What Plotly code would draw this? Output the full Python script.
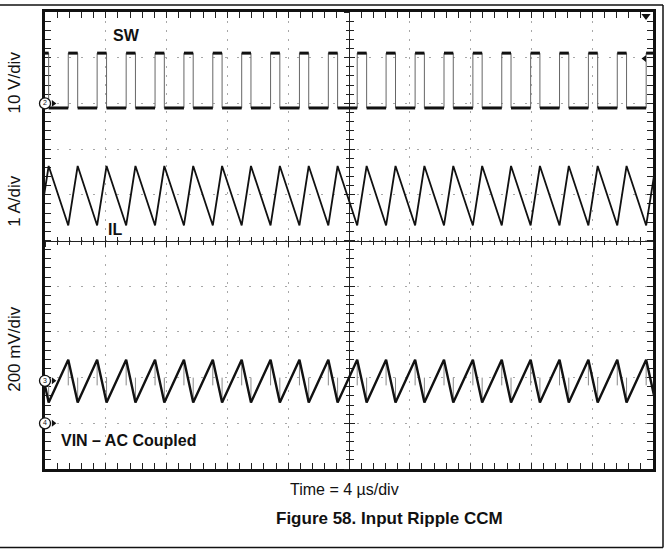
import plotly.graph_objects as go

# ---------------- data ----------------
# time base: 4 us/div, 10 divisions
time_range_us = [0, 40]
volt_div_range = [-5, 5]
# switching-node (SW) edge times, us
sw_rise_us = [-0.37, 1.53, 3.43, 5.34, 7.24, 9.14, 11.04, 12.94, 14.84, 16.74, 18.64,
              20.54, 22.44, 24.35, 26.25, 28.15, 30.05, 31.95, 33.85, 35.75, 37.65, 39.55]
sw_fall_us = [0.24, 2.15, 4.05, 5.95, 7.85, 9.75, 11.65, 13.55, 15.45, 17.35, 19.25,
              21.16, 23.06, 24.96, 26.86, 28.76, 30.66, 32.56, 34.46, 36.36, 38.26, 40.17]
# levels
sw_low_v, sw_high_v = -1.0, 11.0          # ch2, 10 V/div
il_trough_a, il_peak_a = 0.33, 1.63       # ch1, 1 A/div
vin_peak_mv, vin_trough_mv = 92, -95      # ch3, 200 mV/div (AC coupled)
vin_spike_down_mv, vin_spike_up_mv = -20, 14
# channel scales (units per division) and offsets (divisions)
ch_scale = {"SW": 10.0, "IL": 1.0, "VIN": 200.0}
ch_offset_div = {"SW": 3.0, "IL": 0.0, "VIN": -3.07, "CH4": -4.0}
trigger_level_div = 3.98
trigger_time_us = 39.54
marker_labels = ["2", "3", "4"]

# ---------------- helpers (pixel layout) ----------------
W, H = 669, 550
L, R, T, B = 45, 653, 9, 469


def px(xp):
    return (xp - L) / (R - L)


def py(yp):
    return (B - yp) / (B - T)


def div(ch, v):
    return ch_offset_div[ch] + v / ch_scale[ch]


FONT = "Liberation Sans, Arial, Helvetica, sans-serif"

# ---------------- build traces ----------------
sw_x, sw_y = [], []
for r, f in zip(sw_rise_us, sw_fall_us):
    sw_x += [r, r, f, f]
    sw_y += [div("SW", sw_low_v), div("SW", sw_high_v), div("SW", sw_high_v), div("SW", sw_low_v)]

plat_x, plat_y = [], []
for i, (r, f) in enumerate(zip(sw_rise_us, sw_fall_us)):
    plat_x += [r, f, None]
    plat_y += [div("SW", sw_high_v)] * 2 + [None]
    if i + 1 < len(sw_rise_us):
        plat_x += [f, sw_rise_us[i + 1], None]
        plat_y += [div("SW", sw_low_v)] * 2 + [None]

il_x, il_y = [], []
for r, f in zip(sw_rise_us, sw_fall_us):
    il_x += [r, f]
    il_y += [div("IL", il_trough_a), div("IL", il_peak_a)]

vin_x, vin_y = [], []
for r, f in zip(sw_rise_us, sw_fall_us):
    vin_x += [r, f]
    vin_y += [div("VIN", vin_peak_mv), div("VIN", vin_trough_mv)]

sp_x, sp_y = [], []
for r, f in zip(sw_rise_us, sw_fall_us):
    sp_x += [r, r, None, f, f, None]
    sp_y += [div("VIN", vin_peak_mv), div("VIN", vin_spike_down_mv), None,
             div("VIN", vin_trough_mv), div("VIN", vin_spike_up_mv), None]

fig = go.Figure()
fig.add_trace(go.Scatter(x=sw_x, y=sw_y, mode="lines", line=dict(color="#666", width=1),
                         hoverinfo="skip", showlegend=False))
fig.add_trace(go.Scatter(x=plat_x, y=plat_y, mode="lines", line=dict(color="#111", width=3),
                         hoverinfo="skip", showlegend=False))
fig.add_trace(go.Scatter(x=il_x, y=il_y, mode="lines", line=dict(color="#111", width=1.8),
                         hoverinfo="skip", showlegend=False))
fig.add_trace(go.Scatter(x=sp_x, y=sp_y, mode="lines", line=dict(color="#888", width=1),
                         hoverinfo="skip", showlegend=False))
fig.add_trace(go.Scatter(x=vin_x, y=vin_y, mode="lines", line=dict(color="#111", width=2.4),
                         hoverinfo="skip", showlegend=False))

# channel ground markers
mk_y = [ch_offset_div["SW"], ch_offset_div["VIN"], ch_offset_div["CH4"]]
fig.add_trace(go.Scatter(x=[0.55] * 3, y=mk_y, mode="markers",
                         marker=dict(symbol="triangle-right", size=6, color="#111"),
                         cliponaxis=False, hoverinfo="skip", showlegend=False))
fig.add_trace(go.Scatter(x=[0] * 3, y=mk_y, mode="markers+text", text=marker_labels,
                         textposition="middle center", textfont=dict(size=7, color="#111", family=FONT),
                         marker=dict(symbol="circle", size=11, color="white", line=dict(color="#111", width=1.3)),
                         cliponaxis=False, hoverinfo="skip", showlegend=False))
# trigger markers
fig.add_trace(go.Scatter(x=[trigger_time_us], y=[4.91], mode="markers",
                         marker=dict(symbol="triangle-down", size=8, color="#111"),
                         cliponaxis=False, hoverinfo="skip", showlegend=False))
fig.add_trace(go.Scatter(x=[trigger_time_us - 0.1], y=[trigger_level_div], mode="markers",
                         marker=dict(symbol="triangle-left", size=6, color="#111"),
                         cliponaxis=False, hoverinfo="skip", showlegend=False))

# dummy traces for centre graticule axes
for xa, ya in [("x2", "y"), ("x3", "y"), ("x", "y2"), ("x", "y3")]:
    fig.add_trace(go.Scatter(x=[None], y=[None], xaxis=xa, yaxis=ya, showlegend=False, hoverinfo="skip"))

edge_common = dict(showline=True, linewidth=3, linecolor="#111", mirror="ticks",
                   ticks="inside", ticklen=6, tickwidth=1, tickcolor="#222",
                   showticklabels=False, zeroline=False, fixedrange=True,
                   gridcolor="#a8a8a8", gridwidth=1, layer="below traces")
fig.update_layout(
    width=W, height=H,
    margin=dict(l=L, r=W - R, t=T, b=H - B),
    paper_bgcolor="white", plot_bgcolor="white",
    xaxis=dict(range=time_range_us, dtick=4, tick0=0, griddash="2px,7px",
               minor=dict(ticks="inside", ticklen=6, dtick=0.8, tick0=0, tickcolor="#222", tickwidth=1),
               **edge_common),
    yaxis=dict(range=volt_div_range, dtick=1, tick0=0, griddash="2px,10px",
               minor=dict(ticks="inside", ticklen=6, dtick=0.2, tick0=0, tickcolor="#222", tickwidth=1),
               **edge_common),
)
centre_common = dict(showline=True, linewidth=1, linecolor="#222", showgrid=False, zeroline=False,
                     showticklabels=False, fixedrange=True, tickwidth=1, tickcolor="#222",
                     anchor="free", position=0.5, layer="below traces")
for name, side in [("xaxis2", "outside"), ("xaxis3", "inside")]:
    fig.layout[name] = dict(overlaying="x", range=time_range_us, dtick=4, tick0=0, ticks=side, ticklen=5,
                            minor=dict(ticks=side, ticklen=3.5, dtick=0.8, tick0=0, tickcolor="#222"),
                            **centre_common)
for name, side in [("yaxis2", "outside"), ("yaxis3", "inside")]:
    fig.layout[name] = dict(overlaying="y", range=volt_div_range, dtick=1, tick0=0, ticks=side, ticklen=5,
                            minor=dict(ticks=side, ticklen=3.5, dtick=0.2, tick0=0, tickcolor="#222"),
                            **centre_common)

# outer page frame
for x0, y0, x1, y1 in [(-10, 2, 663, 2), (663, 2, 663, 548), (-10, 548, 663, 548)]:
    fig.add_shape(type="line", xref="paper", yref="paper", x0=px(x0), y0=py(y0), x1=px(x1), y1=py(y1),
                  line=dict(color="#111", width=1.5), layer="above")

ann = []
# trace labels (data coordinates)
ann.append(dict(x=5.39, y=4.48, xref="x", yref="y", text="<b>SW</b>", showarrow=False,
                xanchor="center", yanchor="middle", font=dict(size=16, family=FONT, color="#111")))
ann.append(dict(x=4.58, y=0.24, xref="x", yref="y", text="<b>IL</b>", showarrow=False,
                xanchor="center", yanchor="middle", font=dict(size=16, family=FONT, color="#111")))
ann.append(dict(x=0.95, y=-4.37, xref="x", yref="y", text="<b>VIN – AC Coupled</b>", showarrow=False,
                xanchor="left", yanchor="middle", font=dict(size=16, family=FONT, color="#111")))
# channel scale labels
for txt, yc in [("10 V/div", 80), ("1 A/div", 199), ("200 mV/div", 348)]:
    ann.append(dict(x=px(15), y=py(yc), xref="paper", yref="paper", text=txt, textangle=-90,
                    xanchor="center", yanchor="middle",
                    showarrow=False, font=dict(size=17, family=FONT, color="#111")))
ann.append(dict(x=px(344), y=py(490), xref="paper", yref="paper", text="Time = 4 µs/div",
                xanchor="center", yanchor="middle",
                showarrow=False, font=dict(size=16, family=FONT, color="#111")))
ann.append(dict(x=px(389.5), y=py(519), xref="paper", yref="paper", text="<b>Figure 58. Input Ripple CCM</b>",
                xanchor="center", yanchor="middle",
                showarrow=False, font=dict(size=17, family=FONT, color="#111")))
fig.update_layout(annotations=ann)

fig.write_html("out.html", config={"displayModeBar": False},
               post_script="document.body.style.margin='0';document.body.style.padding='0';")
